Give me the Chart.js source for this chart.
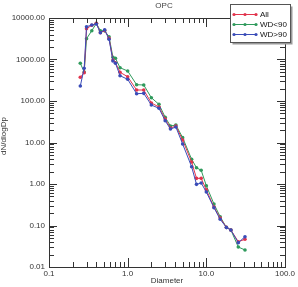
<!DOCTYPE html>
<html>
<head>
<meta charset="utf-8">
<script src="https://cdn.jsdelivr.net/npm/chart.js@4/dist/chart.umd.min.js"></script>
<style>
html,body{margin:0;padding:0;background:#fff;}
#wrap{width:298px;height:287px;position:relative;}
</style>
</head>
<body>
<div id="wrap"><canvas id="c" width="298" height="287"></canvas></div>
<script>
// ---- data ----
const diameters = [0.25, 0.28, 0.30, 0.35, 0.40, 0.45, 0.51, 0.58, 0.65, 0.70, 0.80, 1.0, 1.3, 1.6, 2.0, 2.5, 3.0, 3.5, 4.1, 5.0, 6.5, 7.5, 8.6, 10.0, 12.5, 15.0, 18.0, 20.5, 25.5, 31.0];
const allValues = [372, 481, 5520, 6670, 7450, 4420, 5000, 3240, 973, 837, 492, 385, 184, 184, 89.5, 71.7, 36.8, 22.3, 25, 11.5, 3.39, 1.37, 1.37, 0.72, 0.279, 0.152, 0.09, 0.078, 0.0407, 0.0465];
const wdLow = [809, 500, 3170, 4940, 7450, 4940, 4900, 3540, 1130, 1070, 634, 528, 247, 243, 120, 83, 40.5, 25, 26.4, 13.1, 3.94, 2.47, 2.14, 0.91, 0.33, 0.163, 0.09, 0.078, 0.0303, 0.0257];
const wdHigh = [230, 614, 6170, 6780, 7170, 4420, 5200, 3070, 920, 809, 407, 333, 150, 153, 80, 66.7, 33.5, 21.1, 23.6, 9.2, 2.61, 0.98, 1.06, 0.64, 0.268, 0.141, 0.0895, 0.078, 0.0385, 0.0537];
const seriesNames = ['All', 'WD<90', 'WD>90'];
const xTickValues = [0.1, 1, 10, 100];
const xTickLabels = ['0.1', '1.0', '10.0', '100.0'];
const yTickValues = [0.01, 0.1, 1, 10, 100, 1000, 10000];
const yTickLabels = ['0.01', '0.10', '1.00', '10.00', '100.00', '1000.00', '10000.00'];
const chartTitle = 'OPC';
const xTitle = 'Diameter';
const yTitle = 'dN/dlogDp';

const colors = ['#e2334c', '#2f9a5c', '#3a4cb8'];
const FONT = '"Liberation Sans", Arial, sans-serif';

function toPts(vals){ return diameters.map((d,i)=>({x:d, y:vals[i]})); }
const seriesVals = [allValues, wdLow, wdHigh];
const orders = [1, 2, 0];
const datasets = seriesVals.map((v,i)=>({
  label: seriesNames[i],
  data: toPts(v),
  borderColor: colors[i],
  backgroundColor: colors[i],
  borderWidth: 1,
  pointRadius: 1.8,
  pointBorderWidth: 0,
  pointBackgroundColor: colors[i],
  tension: 0,
  order: orders[i]
}));

function decadeTicks(min, max){
  const out = [];
  const e0 = Math.floor(Math.log10(min)+1e-9), e1 = Math.ceil(Math.log10(max)-1e-9);
  for (let e=e0; e<=e1; e++){
    for (let k=1; k<=9; k++){
      const v = k*Math.pow(10,e);
      if (v >= min*0.999 && v <= max*1.001) out.push({v, major: k===1});
    }
  }
  return out;
}

const framePlugin = {
  id: 'frame',
  afterDatasetsDraw(chart){
    const ctx = chart.ctx, a = chart.chartArea;
    const xs = chart.scales.x, ys = chart.scales.y;
    ctx.save();
    ctx.strokeStyle = '#333';
    ctx.lineWidth = 1;
    ctx.strokeRect(Math.round(a.left)+0.5, Math.round(a.top)+0.5, Math.round(a.right-a.left), Math.round(a.bottom-a.top));
    ctx.beginPath();
    decadeTicks(xs.min, xs.max).forEach(t=>{
      const px = Math.round(xs.getPixelForValue(t.v))+0.5;
      const len = t.major ? 9 : 5;
      ctx.moveTo(px, a.bottom); ctx.lineTo(px, a.bottom-len);
      ctx.moveTo(px, a.top); ctx.lineTo(px, a.top+len);
    });
    decadeTicks(ys.min, ys.max).forEach(t=>{
      const py = Math.round(ys.getPixelForValue(t.v))+0.5;
      const len = t.major ? 8 : 5;
      ctx.moveTo(a.left, py); ctx.lineTo(a.left+len, py);
      ctx.moveTo(a.right, py); ctx.lineTo(a.right-len, py);
    });
    ctx.stroke();
    ctx.restore();
  },
  afterDraw(chart){
    const ctx = chart.ctx, a = chart.chartArea;
    ctx.save();
    // titles
    ctx.fillStyle = '#444';
    ctx.font = '8px ' + FONT;
    ctx.textAlign = 'center';
    ctx.textBaseline = 'middle';
    ctx.fillText(chartTitle, 164, 6);
    ctx.fillStyle = '#333';
    ctx.fillText(xTitle, (a.left+a.right)/2, 281);
    ctx.save();
    ctx.translate(4, 136);
    ctx.rotate(-Math.PI/2);
    ctx.fillText(yTitle, 0, 0);
    ctx.restore();
    // legend
    const bx = 230.5, by = 4.5, bw = 60, bh = 38;
    ctx.fillStyle = '#999';
    ctx.fillRect(bx+2, by+2, bw, bh);
    ctx.fillStyle = '#fff';
    ctx.fillRect(bx, by, bw, bh);
    ctx.strokeStyle = '#555';
    ctx.lineWidth = 1;
    ctx.strokeRect(bx, by, bw, bh);
    chart.data.datasets.forEach((ds,i)=>{
      const yy = 14 + i*10;
      ctx.strokeStyle = ds.borderColor;
      ctx.beginPath(); ctx.moveTo(233, yy+0.5); ctx.lineTo(257, yy+0.5); ctx.stroke();
      ctx.fillStyle = ds.borderColor;
      [234, 245, 256].forEach(px=>{ ctx.beginPath(); ctx.arc(px, yy+0.5, 1.6, 0, Math.PI*2); ctx.fill(); });
      ctx.fillStyle = '#111';
      ctx.textAlign = 'left';
      ctx.fillText(ds.label, 260, yy+0.5);
    });
    ctx.restore();
  }
};

new Chart(document.getElementById('c'), {
  type: 'line',
  data: { datasets },
  options: {
    responsive: false,
    animation: false,
    devicePixelRatio: 1,
    layout: { autoPadding: false, padding: { left: 0, right: 13, top: 18, bottom: 0 } },
    plugins: { legend: { display: false }, title: { display: false }, tooltip: { enabled: false } },
    scales: {
      x: {
        type: 'logarithmic', min: 0.1, max: 100,
        grid: { display: false, drawTicks: false },
        border: { display: false },
        afterFit(s){ s.height = 20; },
        afterBuildTicks(s){ s.ticks = xTickValues.map(v=>({value:v})); },
        ticks: {
          autoSkip: false, maxRotation: 0, padding: 2,
          color: '#333', font: { family: FONT, size: 8 },
          callback(v){ const i = xTickValues.indexOf(v); return i>=0 ? xTickLabels[i] : ''; }
        }
      },
      y: {
        type: 'logarithmic', min: 0.01, max: 10000,
        grid: { display: false, drawTicks: false },
        border: { display: false },
        afterFit(s){ s.width = 49; },
        afterBuildTicks(s){ s.ticks = yTickValues.map(v=>({value:v})); },
        ticks: {
          autoSkip: false, padding: 4,
          color: '#333', font: { family: FONT, size: 8 },
          callback(v){ const i = yTickValues.indexOf(v); return i>=0 ? yTickLabels[i] : ''; }
        }
      }
    }
  },
  plugins: [framePlugin]
});
</script>
</body>
</html>
